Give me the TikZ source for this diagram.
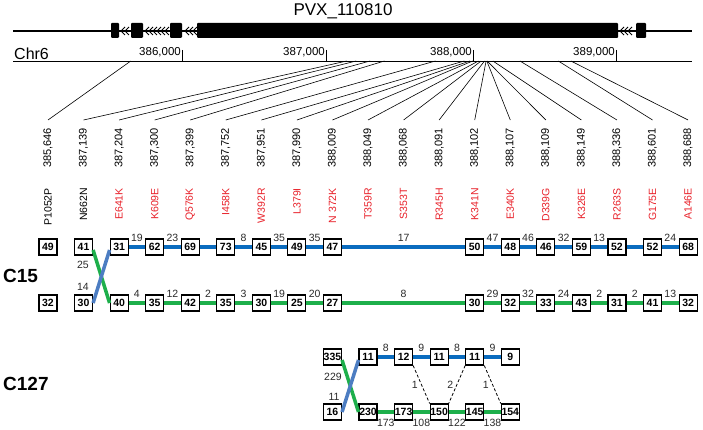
\documentclass[tikz,border=0pt]{standalone}
\usepackage{fontspec}
\setmainfont{Liberation Sans}
\usepackage{xcolor}
\usepackage{tikz}
\usetikzlibrary{calc}
\definecolor{hapblue}{HTML}{0A6CBF}
\definecolor{hapgreen}{HTML}{1DAF4B}
\definecolor{swapblue}{HTML}{4C7DC2}
\definecolor{mutred}{HTML}{E8212A}
\definecolor{labgray}{HTML}{2A2A2A}
\tikzset{
  chev/.pic={
    \draw[line width=1pt] (4,-4)--(0,0)--(4,4);
  }
}
\tikzset{
  bin/.style={
    draw,
    fill=white,
    line width=1.1pt,
    minimum width=18pt,
    minimum height=16pt,
    inner sep=0pt,
    font=\fontsize{10.5}{10.5}\selectfont\bfseries
  },
  hapA/.style={draw=hapblue, line width=4pt},
  hapB/.style={draw=hapgreen, line width=4pt},
  swapA/.style={draw=swapblue, line width=3.5pt},
  swapB/.style={draw=hapgreen, line width=3.5pt},
  link/.style={
    draw,
    line width=0.8pt,
    dash pattern=on 3pt off 2pt
  },
  elab/.style={font=\fontsize{10.5}{10.5}\selectfont, text=labgray},
  poslab/.style={
    rotate=90,
    anchor=east,
    inner sep=0pt,
    font=\fontsize{11}{11}\selectfont
  },
  mutlab/.style={
    rotate=90,
    anchor=east,
    inner sep=0pt,
    font=\fontsize{10.5}{10.5}\selectfont
  },
  exon/.style={fill=black, rounded corners=1pt},
  clone/.style={anchor=west, inner sep=0pt, font=\fontsize{19}{19}\selectfont\bfseries}
}
\begin{document}
\begin{tikzpicture}[x=1pt,y=-1pt]
    \useasboundingbox (0,0) rectangle (703,430);
    % gene model
    \node[font=\fontsize{17}{17}\selectfont] (gene) at (343,11) {PVX\_110810};
    \coordinate (g0) at (13,31);
    \coordinate (g1) at (692,31);
    \draw[line width=1.4pt] (g0) -- (g1);
    \foreach \a/\b in {111/119,131/143,170/182,197/618,636/646}
        \fill[exon] (\a,23) rectangle (\b,38);
    \foreach \x in {121,125,145,149,153,157,161,165,185,189,193,620,624,628}
        \pic at (\x,31) {chev};
    % chromosome axis
    \node[anchor=base west, inner sep=0pt, font=\fontsize{16}{16}\selectfont] (chr) at (14,60) {Chr6};
    \coordinate (c0) at (13,61);
    \coordinate (c1) at (692,61);
    \draw[line width=0.6pt] (c0) -- (c1);
    \foreach \x/\t in {182/{386,000},326/{387,000},473/{388,000},616/{389,000}}{
        \draw[line width=0.6pt] (\x,50) -- (\x,61);
        \node[anchor=south east, inner sep=0pt, font=\fontsize{11.5}{11.5}\selectfont] (tick\x) at (\x-1,57) {\t};
    }
    % sites and mutations
    \foreach \o/\p/\m/\c [count=\i] in {646/{385,646}/P1052P/black,2139/{387,139}/N662N/black,
        2204/{387,204}/E641K/mutred,2300/{387,300}/K609E/mutred,2399/{387,399}/Q576K/mutred,
        2752/{387,752}/I458K/mutred,2951/{387,951}/W392R/mutred,2990/{387,990}/L379I/mutred,
        3009/{388,009}/N 372K/mutred,3049/{388,049}/T359R/mutred,3068/{388,068}/S353T/mutred,
        3091/{388,091}/R345H/mutred,3102/{388,102}/K341N/mutred,3107/{388,107}/E340K/mutred,
        3109/{388,109}/D339G/mutred,3149/{388,149}/K326E/mutred,3336/{388,336}/R263S/mutred,
        3601/{388,601}/G175E/mutred,3688/{388,688}/A146E/mutred}{
        \coordinate (s\i) at ({37.33+\o*0.14467},61);
        \node[poslab] (p\i) at ({48+(\i-1)*35.56},128) {\p};
        \node[mutlab, text=\c] (m\i) at ({48+(\i-1)*35.56},188) {\m};
        \draw[line width=0.6pt] (s\i) -- ($(p\i.east)+(0,-8)$);
    }
    % C15
    \node[clone] (c15) at (3,276) {C15};
    \foreach \c/\n in {1/49,2/41,3/31,4/62,5/69,6/73,7/45,8/49,9/47,13/50,14/48,15/46,16/59,17/52,18/52,19/68}
        \node[bin] (t\c) at ({48+(\c-1)*35.56},247) {\n};
    \foreach \c/\n in {1/32,2/30,3/40,4/35,5/42,6/35,7/30,8/25,9/27,13/30,14/32,15/33,16/43,17/31,18/41,19/32}
        \node[bin] (b\c) at ({48+(\c-1)*35.56},303) {\n};
    \foreach \a/\b/\w in {3/4/19,4/5/23,5/6/,6/7/8,7/8/35,8/9/35,9/13/17,13/14/47,14/15/46,15/16/32,16/17/13,17/18/,18/19/24}
        \draw[hapA] (t\a) -- node[elab, above]{\w} (t\b);
    \foreach \a/\b/\w in {3/4/4,4/5/12,5/6/2,6/7/3,7/8/19,8/9/20,9/13/8,13/14/29,14/15/32,15/16/24,16/17/2,17/18/2,18/19/13}
        \draw[hapB] (b\a) -- node[elab, above]{\w} (b\b);
    \draw[swapB] ($(t2.east)+(0,3)$) -- (b3.west);
    \draw[swapA] (b2.east) -- ($(t3.west)+(0,3)$);
    \node[elab] (x25) at (83,265) {25};
    \node[elab] (x14) at (83,287) {14};
    % C127
    \node[clone] (c127) at (3,384) {C127};
    \foreach \c/\n in {9/335,10/11,11/12,12/11,13/11,14/9}
        \node[bin] (u\c) at ({48+(\c-1)*35.56},357) {\n};
    \foreach \c/\n in {9/16,10/230,11/173,12/150,13/145,14/154}
        \node[bin] (v\c) at ({48+(\c-1)*35.56},412) {\n};
    \foreach \a/\b/\w in {10/11/8,11/12/9,12/13/8,13/14/9}
        \draw[hapA] (u\a) -- node[elab, above]{\w} (u\b);
    \foreach \a/\b/\w in {10/11/173,11/12/108,12/13/122,13/14/138}
        \draw[hapB] (v\a) -- node[elab, below=1.5pt]{\w} (v\b);
    \draw[swapB] ($(u9.east)+(0,3)$) -- (v10.west);
    \draw[swapA] (v9.east) -- ($(u10.west)+(0,3)$);
    \node[elab] (x229) at (333,377) {229};
    \node[elab] (x11) at (334,397) {11};
    \draw[link] (u11.south east) -- node[elab, left]{1} (v12.north west);
    \draw[link] (u13.south west) -- node[elab, left]{2} (v12.north east);
    \draw[link] (u13.south east) -- node[elab, left]{1} (v14.north west);
\end{tikzpicture}
\end{document}
